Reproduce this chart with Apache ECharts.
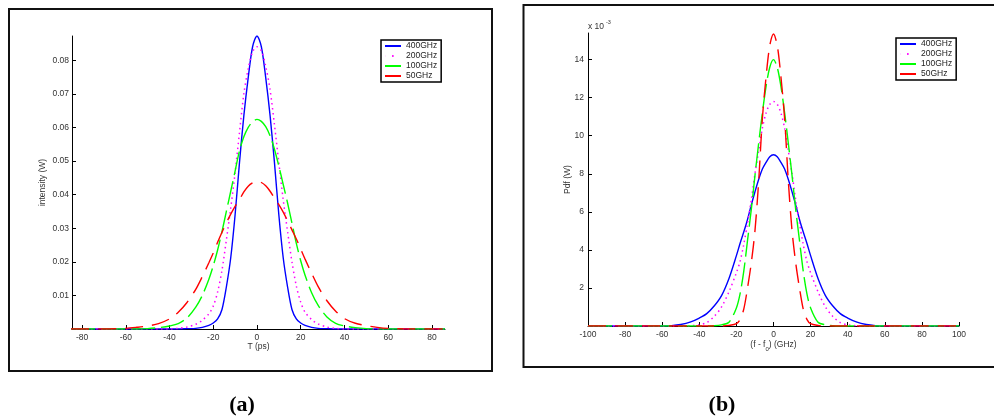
<!DOCTYPE html>
<html>
<head>
<meta charset="utf-8">
<script src="https://cdn.jsdelivr.net/npm/echarts@6/dist/echarts.min.js"></script>
<style>
  html, body { margin: 0; padding: 0; background: #fff; }
  #main { width: 994px; height: 419px; }
</style>
</head>
<body>
<div id="main"></div>
<script>
// ---- panel (a): intensity vs time ----
var tA = [-85, -70, -60, -55, -50, -45, -40, -36, -32, -28, -25, -22, -20, -18, -16, -14, -12, -10, -8, -6, -4, -2,
          0, 2, 4, 6, 8, 10, 12, 14, 16, 18, 20, 22, 25, 28, 32, 36, 40, 45, 50, 55, 60, 70, 86];
var a400 = [0, 0, 0, 0, 0, 0, 0, 0, 0.0001, 0.0002, 0.0005, 0.0011, 0.0018, 0.0030, 0.0058, 0.0125, 0.0212, 0.0340, 0.0495, 0.0635, 0.0748, 0.0840,
            0.0872, 0.0840, 0.0748, 0.0635, 0.0495, 0.0340, 0.0212, 0.0125, 0.0058, 0.0030, 0.0018, 0.0011, 0.0005, 0.0002, 0.0001, 0, 0, 0, 0, 0, 0, 0, 0];
var a200 = [0, 0, 0, 0, 0, 0, 0, 0.0002, 0.0006, 0.0014, 0.0026, 0.0045, 0.0068, 0.0110, 0.0175, 0.0265, 0.0360, 0.0465, 0.0585, 0.0700, 0.0775, 0.0825,
            0.0840, 0.0828, 0.0782, 0.0712, 0.0608, 0.0495, 0.0385, 0.0290, 0.0200, 0.0128, 0.0080, 0.0050, 0.0028, 0.0015, 0.0006, 0.0002, 0, 0, 0, 0, 0, 0, 0];
var a100 = [0, 0, 0, 0, 0.0001, 0.0004, 0.0009, 0.0016, 0.0033, 0.0065, 0.0100, 0.0148, 0.0188, 0.0235, 0.0290, 0.0350, 0.0410, 0.0470, 0.0530, 0.0572, 0.0600, 0.0617,
            0.0624, 0.0618, 0.0602, 0.0575, 0.0535, 0.0485, 0.0430, 0.0375, 0.0315, 0.0255, 0.0203, 0.0160, 0.0108, 0.0070, 0.0036, 0.0017, 0.0009, 0.0004, 0.0001, 0, 0, 0, 0];
var a50 = [0, 0, 0.0002, 0.0005, 0.0009, 0.0016, 0.0030, 0.0050, 0.0079, 0.0118, 0.0156, 0.0197, 0.0226, 0.0258, 0.0288, 0.0316, 0.0342, 0.0365, 0.0385, 0.0408, 0.0425, 0.0435,
           0.0440, 0.0436, 0.0426, 0.0410, 0.0390, 0.0370, 0.0348, 0.0322, 0.0295, 0.0268, 0.0238, 0.0208, 0.0166, 0.0126, 0.0084, 0.0053, 0.0031, 0.0017, 0.0010, 0.0005, 0.0002, 0, 0];
var ticksAx = [-80, -60, -40, -20, 0, 20, 40, 60, 80];
var ticksAy = [0.01, 0.02, 0.03, 0.04, 0.05, 0.06, 0.07, 0.08];

// ---- panel (b): pdf vs frequency offset (x 10^-3) ----
var fB = [-100, -80, -60, -55, -50, -45, -40, -36, -32, -28, -24, -20, -18, -16, -14, -12, -10, -8, -6, -4, -2,
          0, 2, 4, 6, 8, 10, 12, 14, 16, 18, 20, 24, 28, 32, 36, 40, 45, 50, 55, 60, 80, 100];
var b400 = [0, 0, 0, 0.02, 0.08, 0.2, 0.42, 0.65, 1.05, 1.6, 2.5, 3.7, 4.35, 4.95, 5.6, 6.35, 7.05, 7.7, 8.25, 8.6, 8.9,
            9.0, 8.9, 8.6, 8.25, 7.7, 7.05, 6.35, 5.6, 4.95, 4.35, 3.7, 2.5, 1.6, 1.05, 0.65, 0.42, 0.2, 0.08, 0.02, 0, 0, 0];
var b200 = [0, 0, 0, 0, 0, 0.01, 0.06, 0.18, 0.5, 1.0, 1.8, 2.8, 3.4, 4.3, 5.4, 6.6, 8.0, 9.2, 10.4, 11.2, 11.65,
            11.8, 11.65, 11.2, 10.4, 9.2, 8.0, 6.6, 5.4, 4.3, 3.4, 2.8, 1.8, 1.0, 0.5, 0.18, 0.06, 0.01, 0, 0, 0, 0, 0];
var b100 = [0, 0, 0, 0, 0, 0, 0, 0, 0.01, 0.06, 0.2, 0.95, 1.7, 2.9, 4.5, 6.1, 7.9, 9.6, 11.2, 12.6, 13.6,
            14.0, 13.6, 12.6, 11.2, 9.6, 7.9, 6.1, 4.5, 2.9, 1.7, 0.95, 0.2, 0.06, 0.01, 0, 0, 0, 0, 0, 0, 0, 0];
var b50 = [0, 0, 0, 0, 0, 0, 0, 0, 0, 0, 0.03, 0.12, 0.35, 0.9, 2.0, 3.3, 5.0, 7.6, 10.9, 13.1, 14.75,
           15.35, 14.75, 13.1, 10.9, 7.6, 5.0, 3.3, 2.0, 0.9, 0.35, 0.12, 0.03, 0, 0, 0, 0, 0, 0, 0, 0, 0, 0];
var ticksBx = [-100, -80, -60, -40, -20, 0, 20, 40, 60, 80, 100];
var ticksBy = [2, 4, 6, 8, 10, 12, 14];

var names = ['400GHz', '200GHz', '100GHz', '50GHz'];
var FONT = 'Liberation Sans, Arial, sans-serif';
var looks = {
    '400GHz': { color: '#0000ff', type: 'solid', width: 1.4 },
    '200GHz': { color: '#ff00ff', type: [1.5, 3.5], width: 1.5 },
    '100GHz': { color: '#00ff00', type: [24, 6], width: 1.4 },
    '50GHz':  { color: '#ff0000', type: [18, 9], width: 1.4 }
};

function pts(xs, ys) {
    return xs.map(function (x, i) { return [x, ys[i]]; });
}

function lineSeries(name, xs, ys, idx) {
    var s = looks[name];
    return {
        name: name,
        type: 'line',
        xAxisIndex: idx,
        yAxisIndex: idx,
        data: pts(xs, ys),
        symbol: 'none',
        smooth: 0.3,
        color: s.color,
        lineStyle: { color: s.color, type: s.type, width: s.width },
        animation: false
    };
}

function axis(extra) {
    var base = {
        type: 'value',
        axisLine: { show: true, onZero: false, lineStyle: { color: '#000', width: 1 } },
        axisTick: { show: true, inside: true, length: 4, lineStyle: { color: '#000' } },
        splitLine: { show: false },
        axisLabel: { color: '#333', fontSize: 8.5, fontFamily: FONT, margin: 4 },
        nameLocation: 'middle',
        nameMoveOverlap: false,
        nameTextStyle: { color: '#333', fontSize: 8.5, fontFamily: FONT }
    };
    return Object.assign(base, extra);
}

function legendAt(left, top) {
    return {
        left: left,
        top: top,
        orient: 'vertical',
        selectedMode: false,
        backgroundColor: '#fff',
        borderColor: '#000',
        borderWidth: 1.5,
        borderRadius: 0,
        padding: [1, 4, 1, 3],
        itemWidth: 16,
        itemHeight: 10,
        itemGap: 0,
        itemStyle: { opacity: 0 },
        textStyle: { color: '#222', fontSize: 8.5, fontFamily: FONT, lineHeight: 10 },
        data: names.map(function (n) {
            if (n === '200GHz') {
                return { name: n, lineStyle: { type: [0.1, 7, 1.5, 30] } };
            }
            return { name: n };
        })
    };
}

var myChart = echarts.init(document.getElementById('main'));

myChart.setOption({
    animation: false,
    backgroundColor: '#fff',
    grid: [
        { left: 72, top: 36, width: 373, height: 293 },
        { left: 588, top: 33, width: 371, height: 293 }
    ],
    xAxis: [
        axis({
            gridIndex: 0, min: -84.6, max: 86,
            name: 'T (ps)', nameGap: 13,
            axisTick: { show: true, inside: true, length: 4, lineStyle: { color: '#000' }, customValues: ticksAx },
            axisLabel: { color: '#333', fontSize: 8.5, fontFamily: FONT, margin: 4, customValues: ticksAx }
        }),
        axis({
            gridIndex: 1, min: -100, max: 100,
            name: '{n|(f - f}{s|0}{n|) (GHz)}', nameGap: 14,
            nameTextStyle: {
                color: '#333', fontSize: 8.5, fontFamily: FONT,
                rich: {
                    n: { color: '#333', fontSize: 8.5, fontFamily: FONT, lineHeight: 10, verticalAlign: 'top' },
                    s: { color: '#333', fontSize: 6, fontFamily: FONT, lineHeight: 6, padding: [6, 0, 0, 0], verticalAlign: 'top' }
                }
            },
            axisTick: { show: true, inside: true, length: 4, lineStyle: { color: '#000' }, customValues: ticksBx },
            axisLabel: { color: '#333', fontSize: 8.5, fontFamily: FONT, margin: 4, customValues: ticksBx }
        })
    ],
    yAxis: [
        axis({
            gridIndex: 0, min: 0, max: 0.0872,
            name: 'intensity (W)', nameGap: 25,
            axisTick: { show: true, inside: true, length: 4, lineStyle: { color: '#000' }, customValues: ticksAy },
            axisLabel: {
                color: '#333', fontSize: 8.5, fontFamily: FONT, margin: 3, customValues: ticksAy,
                formatter: function (v) { return v.toFixed(2); }
            }
        }),
        axis({
            gridIndex: 1, min: 0, max: 15.4,
            name: 'Pdf (W)', nameGap: 16,
            axisTick: { show: true, inside: true, length: 4, lineStyle: { color: '#000' }, customValues: ticksBy },
            axisLabel: { color: '#333', fontSize: 8.5, fontFamily: FONT, margin: 4, customValues: ticksBy }
        })
    ],
    legend: [legendAt(381, 40), legendAt(896, 38)],
    series: [
        lineSeries('400GHz', tA, a400, 0),
        lineSeries('200GHz', tA, a200, 0),
        lineSeries('100GHz', tA, a100, 0),
        lineSeries('50GHz', tA, a50, 0),
        lineSeries('400GHz', fB, b400, 1),
        lineSeries('200GHz', fB, b200, 1),
        lineSeries('100GHz', fB, b100, 1),
        lineSeries('50GHz', fB, b50, 1)
    ],
    graphic: [
        // panel frames
        { type: 'rect', shape: { x: 9, y: 9, width: 483, height: 362 }, style: { fill: 'none', stroke: '#111', lineWidth: 2 }, silent: true },
        { type: 'rect', shape: { x: 523.5, y: 5, width: 480, height: 362 }, style: { fill: 'none', stroke: '#111', lineWidth: 2 }, silent: true },
        // scale factor for panel (b)
        { type: 'text', left: 588, top: 22, style: { text: 'x 10', fontSize: 8.5, fontFamily: FONT, fill: '#333' }, silent: true },
        { type: 'text', left: 606, top: 19, style: { text: '-3', fontSize: 5.5, fontFamily: FONT, fill: '#333' }, silent: true },
        // panel captions
        { type: 'text', x: 242, y: 405, style: { text: '(a)', font: 'bold 22px "Liberation Serif", "Times New Roman", serif', fill: '#000', align: 'center', verticalAlign: 'middle' }, silent: true },
        { type: 'text', x: 722, y: 405, style: { text: '(b)', font: 'bold 22px "Liberation Serif", "Times New Roman", serif', fill: '#000', align: 'center', verticalAlign: 'middle' }, silent: true }
    ]
});
</script>
</body>
</html>
